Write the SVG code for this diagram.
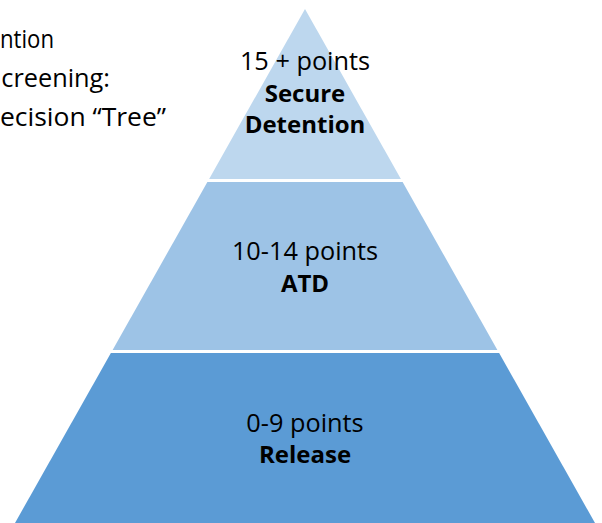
<svg xmlns="http://www.w3.org/2000/svg" width="602" height="523" viewBox="0 0 602 523">
<style>
  text { font-family: "Open Sans", "Liberation Sans", sans-serif; fill: #000000; }
  .r { font-size: 25.3px; font-weight: normal; }
  .b { font-size: 24px; font-weight: bold; }
  .c { text-anchor: middle; }
  .e { text-anchor: end; }
</style>
<rect width="602" height="523" fill="#ffffff"/>
<g id="title">
  <text class="r" x="0" y="48" textLength="54" lengthAdjust="spacingAndGlyphs">ntion</text>
  <text class="r e" x="110" y="87">creening:</text>
  <text class="r" x="0" y="126" textLength="166" lengthAdjust="spacingAndGlyphs">ecision “Tree”</text>
</g>
<g id="tier-secure-detention">
  <polygon points="305,9 400.9,179 209.1,179" fill="#BDD7EE"/>
  <text class="r c" x="305" y="70">15 + points</text>
  <text class="b c" x="305" y="102">Secure</text>
  <text class="b c" x="305" y="133">Detention</text>
</g>
<g id="tier-atd">
  <polygon points="207.4,182 402.6,182 497.4,350 112.6,350" fill="#9DC3E6"/>
  <text class="r c" x="305" y="260">10-14 points</text>
  <text class="b c" x="305" y="292">ATD</text>
</g>
<g id="tier-release">
  <polygon points="110.9,353 499.1,353 595,523 15,523" fill="#5B9BD5"/>
  <text class="r c" x="305" y="432">0-9 points</text>
  <text class="b c" x="305" y="463">Release</text>
</g>
<g id="connectors"></g>
</svg>
